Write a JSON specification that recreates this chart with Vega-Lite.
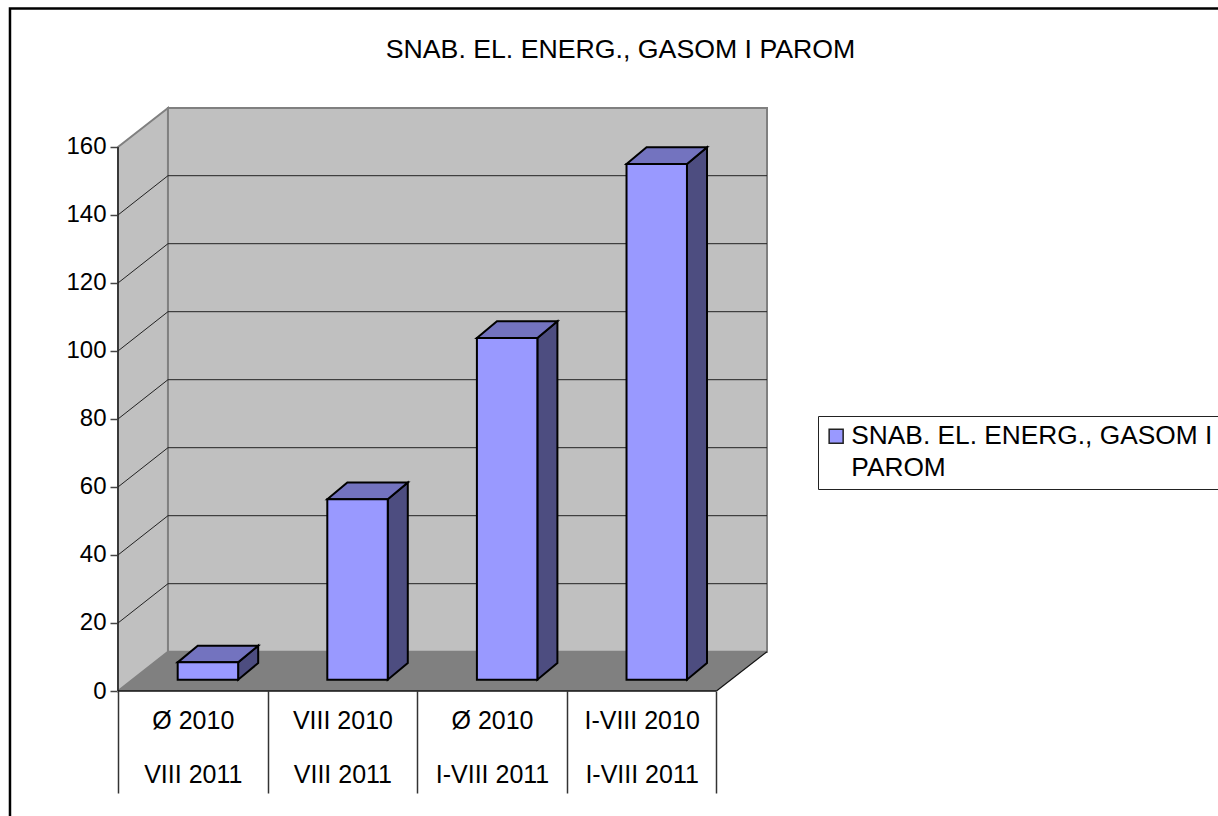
{
"$schema":"https://vega.github.io/schema/vega-lite/v6.json",
"width":649,"height":583,
"autosize":"none",
"padding":{"left":118,"top":108,"right":451,"bottom":125},
"background":"white",
"config":{"view":{"stroke":null},"font":"Liberation Sans","axis":{"title":null},"style":{"guide-label":{"lineHeight":32}}},
"title":{"text":"SNAB. EL. ENERG., GASOM I PAROM","anchor":"middle","frame":"group","dx":178,"offset":-56,"fontSize":26.7,"fontWeight":"normal","font":"Liberation Sans","color":"black"},
"datasets":{
"bars":[
{"slot":0,"period":"Ø 2010 / VIII 2011","value":5.1,"series":"SNAB. EL. ENERG., GASOM I PAROM"},
{"slot":1,"period":"VIII 2010 / VIII 2011","value":53.1,"series":"SNAB. EL. ENERG., GASOM I PAROM"},
{"slot":2,"period":"Ø 2010 / I-VIII 2011","value":100.5,"series":"SNAB. EL. ENERG., GASOM I PAROM"},
{"slot":3,"period":"I-VIII 2010 / I-VIII 2011","value":151.7,"series":"SNAB. EL. ENERG., GASOM I PAROM"}
],
"ticks":[{"tick":20},{"tick":40},{"tick":60},{"tick":80},{"tick":100},{"tick":120},{"tick":140}]
},
"layer":[
{"data":{"values":[{"part":"frame"}]},
 "mark":{"type":"rect","filled":false,"stroke":"black","strokeWidth":2.5},
 "encoding":{
  "x":{"datum":-0.722,"type":"quantitative","scale":{"domain":[0,4.338],"nice":false,"zero":false}},
  "x2":{"datum":9},
  "y":{"datum":200.7,"type":"quantitative","scale":{"domain":[0,171.47],"nice":false,"zero":false}},
  "y2":{"datum":-60}
 }},
{"data":{"values":[{"edge":"front"},{"edge":"back"}]},
 "transform":[
  {"calculate":"datum.edge==='front'?0:0.334","as":"px"},
  {"calculate":"datum.edge==='front'?160:171.47","as":"hi"},
  {"calculate":"datum.edge==='front'?0:11.56","as":"lo"}],
 "mark":{"type":"area","fill":"#C0C0C0","stroke":"#808080","strokeWidth":2},
 "encoding":{
  "x":{"field":"px","type":"quantitative","scale":{"domain":[0,4.338],"nice":false,"zero":false},
   "axis":{"values":[0,0.5,1,1.5,2,2.5,3,3.5,4],"title":null,"domain":false,"grid":false,"tickSize":102,"tickColor":"#333","tickWidth":1.5,
    "tickOpacity":{"condition":{"test":"datum.value % 1 === 0","value":1},"value":0},
    "labelExpr":"datum.value===0.5?['Ø 2010','VIII 2011']:datum.value===1.5?['VIII 2010','VIII 2011']:datum.value===2.5?['Ø 2010','I-VIII 2011']:datum.value===3.5?['I-VIII 2010','I-VIII 2011']:''",
    "labelFontSize":25,"labelFont":"Liberation Sans","labelColor":"black","labelLineHeight":54.5,"labelBaseline":"alphabetic","labelPadding":-65,"labelAngle":0,"labelAlign":"center","labelOverlap":false,"labelFlush":false,"labelBound":false}},
  "y":{"field":"hi","type":"quantitative","scale":{"domain":[0,171.47],"nice":false,"zero":false},
   "axis":{"values":[0,20,40,60,80,100,120,140,160],"title":null,"domain":false,"grid":false,"tickSize":8,"tickColor":"#444","tickWidth":1.5,"labelFontSize":24,"labelFont":"Liberation Sans","labelColor":"black","labelPadding":4,"labelOverlap":false,"labelBound":false,"labelFlush":false}},
  "y2":{"field":"lo"}}},
{"data":{"values":[{"part":"wall"}]},
 "mark":{"type":"rect","fill":"#C0C0C0","stroke":"#808080","strokeWidth":2},
 "encoding":{
  "x":{"datum":0.334,"type":"quantitative","scale":{"domain":[0,4.338],"nice":false,"zero":false}},
  "x2":{"datum":4.338},
  "y":{"datum":171.47,"type":"quantitative","scale":{"domain":[0,171.47],"nice":false,"zero":false}},
  "y2":{"datum":11.56}}},
{"data":{"name":"ticks"},
 "transform":[{"calculate":"datum.tick+11.56","as":"back"}],
 "mark":{"type":"rule","stroke":"#222","strokeWidth":1},
 "encoding":{
  "x":{"datum":0.334,"type":"quantitative","scale":{"domain":[0,4.338],"nice":false,"zero":false}},
  "x2":{"datum":4.338},
  "y":{"field":"back","type":"quantitative","scale":{"domain":[0,171.47],"nice":false,"zero":false}}}},
{"data":{"name":"ticks"},
 "transform":[{"calculate":"datum.tick+11.56","as":"back"}],
 "mark":{"type":"rule","stroke":"#222","strokeWidth":1},
 "encoding":{
  "x":{"datum":0,"type":"quantitative","scale":{"domain":[0,4.338],"nice":false,"zero":false}},
  "x2":{"datum":0.334},
  "y":{"field":"tick","type":"quantitative","scale":{"domain":[0,171.47],"nice":false,"zero":false}},
  "y2":{"field":"back"}}},
{"data":{"values":[{"corner":0},{"corner":1},{"corner":2},{"corner":3}]},
 "transform":[
  {"calculate":"[0,0.334,4,4.338][datum.corner]","as":"px"},
  {"calculate":"[0,11.56,11.56,11.56][datum.corner]","as":"hi"},
  {"calculate":"[0,0,0,11.56][datum.corner]","as":"lo"}],
 "mark":{"type":"area","fill":"#808080"},
 "encoding":{
  "x":{"field":"px","type":"quantitative","scale":{"domain":[0,4.338],"nice":false,"zero":false}},
  "y":{"field":"hi","type":"quantitative","scale":{"domain":[0,171.47],"nice":false,"zero":false}},
  "y2":{"field":"lo"}}},
{"data":{"values":[{"part":"axis"}]},
 "mark":{"type":"rule","stroke":"#222","strokeWidth":1.5},
 "encoding":{
  "x":{"datum":0,"type":"quantitative","scale":{"domain":[0,4.338],"nice":false,"zero":false}},
  "y":{"datum":0,"type":"quantitative","scale":{"domain":[0,171.47],"nice":false,"zero":false}},
  "y2":{"datum":160}}},
{"data":{"values":[{"part":"axis"}]},
 "mark":{"type":"rule","stroke":"#111","strokeWidth":1.5},
 "encoding":{
  "x":{"datum":0,"type":"quantitative","scale":{"domain":[0,4.338],"nice":false,"zero":false}},
  "x2":{"datum":4},
  "y":{"datum":0,"type":"quantitative","scale":{"domain":[0,171.47],"nice":false,"zero":false}}}},
{"data":{"values":[{"part":"edge"}]},
 "mark":{"type":"rule","stroke":"#111","strokeWidth":1.2},
 "encoding":{
  "x":{"datum":4,"type":"quantitative","scale":{"domain":[0,4.338],"nice":false,"zero":false}},
  "x2":{"datum":4.338},
  "y":{"datum":0,"type":"quantitative","scale":{"domain":[0,171.47],"nice":false,"zero":false}},
  "y2":{"datum":11.56}}},
{"data":{"name":"bars"},
 "transform":[
  {"calculate":"datum.slot+0.399+0.404","as":"a"},
  {"calculate":"datum.a+0.134","as":"b"},
  {"fold":["a","b"],"as":["edge","px"]},
  {"calculate":"3.32+(datum.edge==='b'?4.9:0)","as":"lo"},
  {"calculate":"datum.value+datum.lo","as":"hi"}],
 "mark":{"type":"area","fill":"#4D4D80","stroke":"black","strokeWidth":2},
 "encoding":{
  "detail":{"field":"slot"},
  "x":{"field":"px","type":"quantitative","scale":{"domain":[0,4.338],"nice":false,"zero":false}},
  "y":{"field":"hi","type":"quantitative","scale":{"domain":[0,171.47],"nice":false,"zero":false}},
  "y2":{"field":"lo"}}},
{"data":{"name":"bars"},
 "transform":[
  {"calculate":"datum.slot+0.399","as":"c0"},
  {"calculate":"datum.c0+0.134","as":"c1"},
  {"calculate":"datum.c0+0.404","as":"c2"},
  {"calculate":"datum.c2+0.134","as":"c3"},
  {"fold":["c0","c1","c2","c3"],"as":["corner","px"]},
  {"calculate":"datum.value+3.32+(datum.corner==='c0'?0:4.9)","as":"hi"},
  {"calculate":"datum.value+3.32+(datum.corner==='c3'?4.9:0)","as":"lo"}],
 "mark":{"type":"area","fill":"#7373BF","stroke":"black","strokeWidth":2},
 "encoding":{
  "detail":{"field":"slot"},
  "x":{"field":"px","type":"quantitative","scale":{"domain":[0,4.338],"nice":false,"zero":false}},
  "y":{"field":"hi","type":"quantitative","scale":{"domain":[0,171.47],"nice":false,"zero":false}},
  "y2":{"field":"lo"}}},
{"data":{"name":"bars"},
 "transform":[
  {"calculate":"datum.slot+0.399","as":"left"},
  {"calculate":"datum.left+0.404","as":"right"},
  {"calculate":"datum.value+3.32","as":"top"},
  {"calculate":"3.32","as":"base"}],
 "mark":{"type":"rect","stroke":"black","strokeWidth":2},
 "encoding":{
  "x":{"field":"left","type":"quantitative","scale":{"domain":[0,4.338],"nice":false,"zero":false}},
  "x2":{"field":"right"},
  "y":{"field":"top","type":"quantitative","scale":{"domain":[0,171.47],"nice":false,"zero":false}},
  "y2":{"field":"base"},
  "color":{"field":"series","type":"nominal","scale":{"range":["#9999FF"]},
   "legend":{"title":null,"orient":"none","legendX":700,"legendY":308,"fillColor":"white","strokeColor":"#222","padding":7,"symbolType":"square","symbolSize":196,"symbolStrokeColor":"#222","symbolStrokeWidth":1.5,"symbolOpacity":1,"symbolOffset":-2,"labelFontSize":26.3,"labelFont":"Liberation Sans","labelColor":"black","labelLimit":500,"labelOffset":2,"labelExpr":"['SNAB. EL. ENERG., GASOM I','PAROM']"}}}}
]
}
